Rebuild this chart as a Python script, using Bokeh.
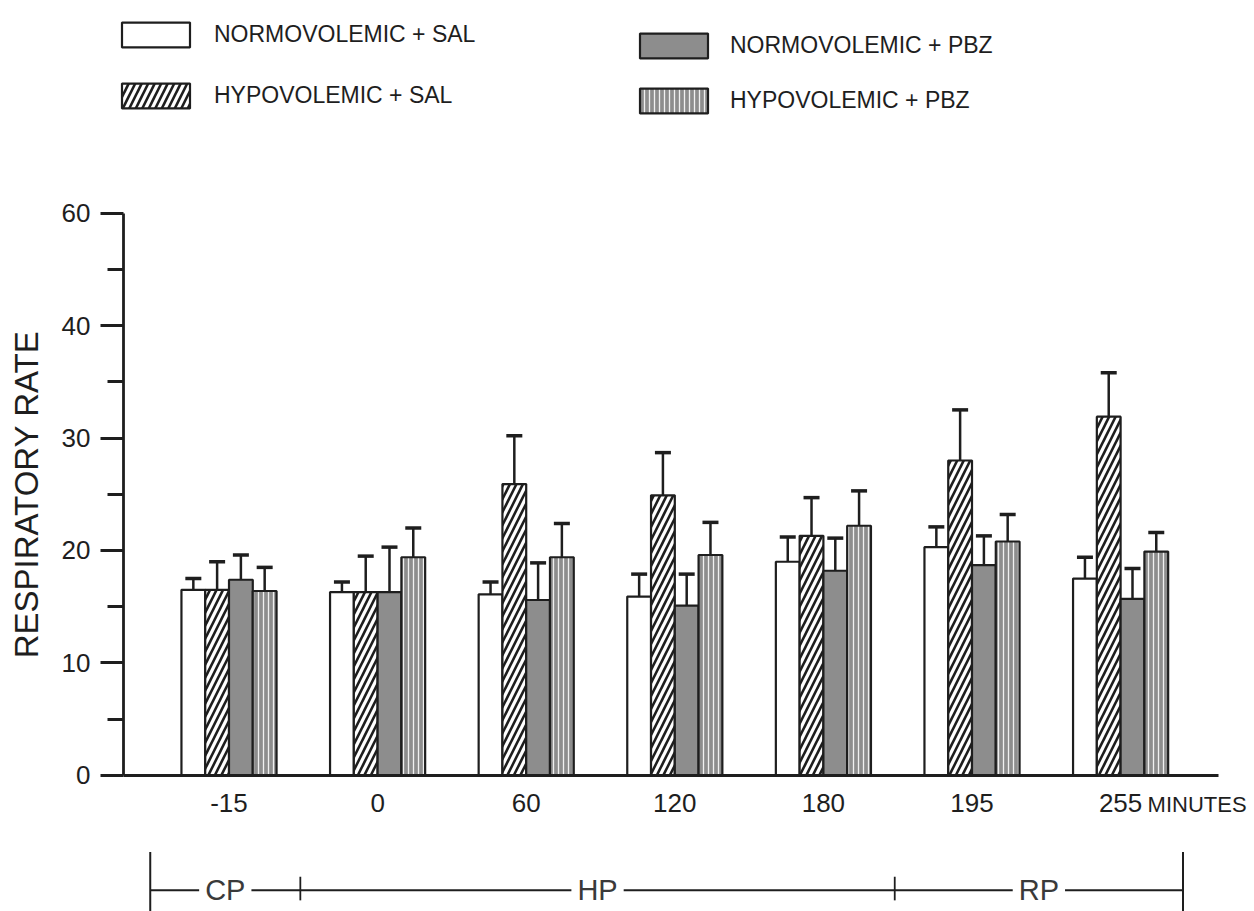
from bokeh.plotting import figure
from bokeh.models import (ColumnDataSource, Range1d, FixedTicker, Legend, LegendItem,
                          Whisker, TeeHead, Label)
from bokeh.transform import dodge
from bokeh.core.properties import value
from bokeh.embed import file_html
from bokeh.resources import INLINE

# Respiratory rate (breaths/min), mean and SE per sampling time
times = ["-15", "0", "60", "120", "180", "195", "255"]

normo_sal = [16.5, 16.3, 16.1, 15.9, 19.0, 20.3, 17.5]
normo_sal_se = [1.0, 0.9, 1.1, 2.0, 2.2, 1.8, 1.9]

hypo_sal = [16.5, 16.3, 25.9, 24.9, 21.3, 28.0, 31.9]
hypo_sal_se = [2.5, 3.2, 4.3, 3.8, 3.4, 4.5, 3.9]

normo_pbz = [17.4, 16.3, 15.6, 15.1, 18.2, 18.7, 15.7]
normo_pbz_se = [2.2, 4.0, 3.3, 2.8, 2.9, 2.6, 2.7]

hypo_pbz = [16.4, 19.4, 19.4, 19.6, 22.2, 20.8, 19.9]
hypo_pbz_se = [2.1, 2.6, 3.0, 2.9, 3.1, 2.4, 1.7]

y_ticks = [0, 10, 20, 30, 40, 50]
y_tick_labels = ["0", "10", "20", "30", "40", "60"]
y_minor_ticks = [5, 15, 25, 35, 45]

# experimental periods along the time axis (control, hypovolemia, recovery)
phases = ["CP", "HP", "RP"]
phase_edges = [-0.53, 0.48, 4.48, 6.42]

FONT = "Liberation Sans"
INK = "#1e1e1e"
GRAY = "#8d8d8d"

X_LO, X_HI = -0.71, 6.66          # extent of the drawn time axis
Y_TOP_AXIS = 50                    # extent of the drawn rate axis

src = ColumnDataSource(dict(
    x=list(range(len(times))),
    ns=normo_sal, ns_hi=[v + e for v, e in zip(normo_sal, normo_sal_se)],
    hs=hypo_sal, hs_hi=[v + e for v, e in zip(hypo_sal, hypo_sal_se)],
    np_=normo_pbz, np_hi=[v + e for v, e in zip(normo_pbz, normo_pbz_se)],
    hp=hypo_pbz, hp_hi=[v + e for v, e in zip(hypo_pbz, hypo_pbz_se)],
))

# one canvas-wide plot area; the axes are pinned inside it so that the
# legend block above and the period bracket below share the same scales
p = figure(width=1254, height=911,
           x_range=Range1d(-1.5377, 6.901), y_range=Range1d(-12.09, 68.89),
           min_border=0, toolbar_location=None, output_backend="svg",
           outline_line_color=None)
p.grid.visible = False

bar_w = 0.16
series = [
    ("NORMOVOLEMIC + SAL", "ns", "ns_hi", -0.24, dict(fill_color="white")),
    ("HYPOVOLEMIC + SAL", "hs", "hs_hi", -0.08,
     dict(fill_color="white", hatch_pattern="/", hatch_color=INK,
          hatch_scale=13, hatch_weight=2.6)),
    ("NORMOVOLEMIC + PBZ", "np_", "np_hi", 0.08, dict(fill_color=GRAY)),
    ("HYPOVOLEMIC + PBZ", "hp", "hp_hi", 0.24,
     dict(fill_color=GRAY, hatch_pattern="|", hatch_color="#f0f0f0",
          hatch_scale=5, hatch_weight=1.3)),
]

renderers = []
for name, col, hi, off, style in series:
    r = p.vbar(x=dodge("x", off), top=col, width=bar_w, bottom=0, source=src,
               line_color=INK, line_width=2.2, **style)
    renderers.append((name, r))
    p.add_layout(Whisker(source=src, base=dodge("x", off), lower=col, upper=hi,
                         line_color=INK, line_width=2.5,
                         upper_head=TeeHead(size=16, line_color=INK, line_width=3.5),
                         lower_head=None, level="overlay"))

# time axis
xa = p.xaxis[0]
xa.fixed_location = 0
xa.bounds = (X_LO, X_HI)
xa.ticker = FixedTicker(ticks=list(range(len(times))))
xa.major_label_overrides = {i: t for i, t in enumerate(times)}
xa.major_tick_out = 0
xa.major_tick_in = 0
xa.minor_tick_out = 0
xa.minor_tick_in = 0
xa.axis_line_width = 2.8
xa.axis_line_color = INK
xa.major_label_standoff = 19
xa.major_label_text_font = FONT
xa.major_label_text_font_size = "26px"
xa.major_label_text_color = INK

# rate axis
ya = p.yaxis[0]
ya.fixed_location = X_LO
ya.bounds = (0, Y_TOP_AXIS)
ya.ticker = FixedTicker(ticks=y_ticks, minor_ticks=y_minor_ticks)
ya.major_label_overrides = dict(zip(y_ticks, y_tick_labels))
ya.major_tick_out = 23
ya.major_tick_in = 0
ya.minor_tick_out = 16
ya.minor_tick_in = 0
ya.axis_line_width = 2.8
ya.major_tick_line_width = 2.8
ya.minor_tick_line_width = 2.8
ya.axis_line_color = INK
ya.major_tick_line_color = INK
ya.minor_tick_line_color = INK
ya.major_label_standoff = 10
ya.major_label_text_font = FONT
ya.major_label_text_font_size = "26px"
ya.major_label_text_color = INK
ya.axis_label = "RESPIRATORY RATE"
ya.axis_label_text_font = FONT
ya.axis_label_text_font_style = "normal"
ya.axis_label_text_font_size = "33px"
ya.axis_label_text_color = INK
ya.axis_label_standoff = 14

p.add_layout(Label(x=len(times) - 1, y=0, x_offset=27, y_offset=-17, text="MINUTES",
                   text_font=FONT, text_font_size="22px", text_color=INK,
                   text_align="left", text_baseline="top"))


# legend: two columns of two entries
def make_legend(entries, loc, spacing, standoff):
    return Legend(items=[LegendItem(label=n, renderers=[r]) for n, r in entries],
                  location=loc, orientation="vertical",
                  glyph_width=85, glyph_height=31, label_standoff=standoff,
                  spacing=spacing, padding=0, margin=0, border_line_color=None,
                  background_fill_alpha=0, label_text_font=FONT,
                  label_text_font_size="23px", label_text_color=INK)


p.add_layout(make_legend([renderers[0], renderers[1]], (113, 800), 30, 16), "center")
p.add_layout(make_legend([renderers[2], renderers[3]], (631, 795), 24, 14), "center")

# period bracket below the time axis
LINE_Y, END_TOP, END_BOT, MID_TOP, MID_BOT = -10.2, -6.8, -12.09, -9.0, -11.1
p.segment(x0=[phase_edges[0]], x1=[phase_edges[-1]], y0=LINE_Y, y1=LINE_Y,
          line_color=INK, line_width=2)
ends = [phase_edges[0], phase_edges[-1]]
p.segment(x0=ends, x1=ends, y0=END_BOT, y1=END_TOP, line_color=INK, line_width=2)
p.segment(x0=phase_edges[1:-1], x1=phase_edges[1:-1], y0=MID_BOT, y1=MID_TOP,
          line_color=INK, line_width=1.8)
mids = [(a + c) / 2 for a, c in zip(phase_edges[:-1], phase_edges[1:])]
p.text(x=mids, y=LINE_Y, text=phases, text_align="center", text_baseline="middle",
       text_font=value(FONT), text_font_size="29px", text_color="#3a3a3a",
       background_fill_color="white", padding=6)

open("out.html", "w").write(file_html(p, INLINE))
